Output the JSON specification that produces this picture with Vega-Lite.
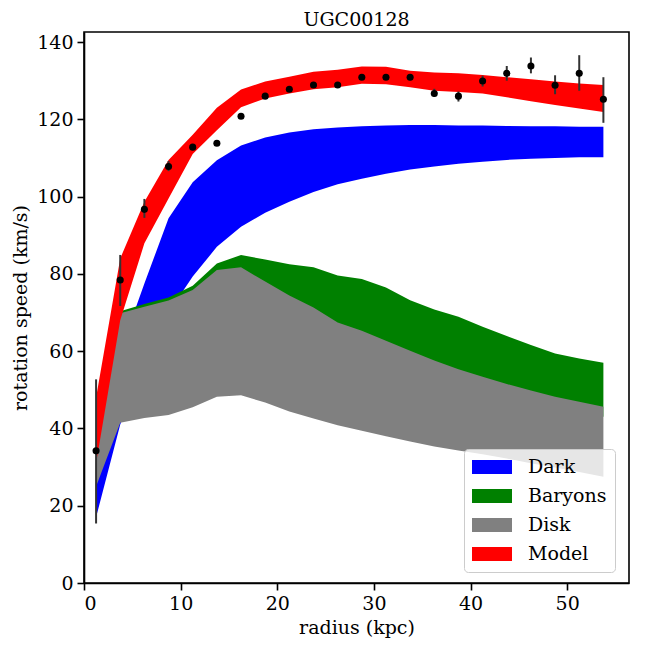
{
  "$schema": "https://vega.github.io/schema/vega-lite/v6.json",
  "width": 545,
  "height": 551,
  "autosize": "none",
  "padding": {"left": 84, "top": 32, "right": 19, "bottom": 65},
  "background": "white",
  "title": {
    "text": "UGC00128",
    "font": "DejaVu Serif",
    "fontSize": 19,
    "fontWeight": "normal",
    "color": "black",
    "anchor": "middle",
    "frame": "group",
    "offset": 2
  },
  "datasets": {
    "bands": [
      {"comp": "Dark", "r": 1.25, "lo": 17, "hi": 26},
      {"comp": "Dark", "r": 3.75, "lo": 41, "hi": 60},
      {"comp": "Dark", "r": 6.25, "lo": 56, "hi": 77.5},
      {"comp": "Dark", "r": 8.75, "lo": 70, "hi": 94.4},
      {"comp": "Dark", "r": 11.25, "lo": 79.3, "hi": 103.7},
      {"comp": "Dark", "r": 13.75, "lo": 87, "hi": 109.4},
      {"comp": "Dark", "r": 16.25, "lo": 92.2, "hi": 113.2},
      {"comp": "Dark", "r": 18.75, "lo": 95.8, "hi": 115.3},
      {"comp": "Dark", "r": 21.25, "lo": 98.7, "hi": 116.6},
      {"comp": "Dark", "r": 23.75, "lo": 101.2, "hi": 117.4},
      {"comp": "Dark", "r": 26.25, "lo": 103.2, "hi": 117.9},
      {"comp": "Dark", "r": 28.75, "lo": 104.6, "hi": 118.2},
      {"comp": "Dark", "r": 31.25, "lo": 105.9, "hi": 118.4},
      {"comp": "Dark", "r": 33.75, "lo": 107, "hi": 118.5},
      {"comp": "Dark", "r": 36.25, "lo": 107.8, "hi": 118.5},
      {"comp": "Dark", "r": 38.75, "lo": 108.5, "hi": 118.4},
      {"comp": "Dark", "r": 41.25, "lo": 109, "hi": 118.4},
      {"comp": "Dark", "r": 43.75, "lo": 109.5, "hi": 118.3},
      {"comp": "Dark", "r": 46.25, "lo": 109.8, "hi": 118.2},
      {"comp": "Dark", "r": 48.75, "lo": 110, "hi": 118.2},
      {"comp": "Dark", "r": 51.25, "lo": 110.2, "hi": 118.1},
      {"comp": "Dark", "r": 53.75, "lo": 110.2, "hi": 118.1},
      {"comp": "Baryons", "r": 1.25, "lo": 30, "hi": 36.5},
      {"comp": "Baryons", "r": 3.75, "lo": 45, "hi": 70.3},
      {"comp": "Baryons", "r": 6.25, "lo": 46, "hi": 72.2},
      {"comp": "Baryons", "r": 8.75, "lo": 47, "hi": 73.9},
      {"comp": "Baryons", "r": 11.25, "lo": 48.5, "hi": 76.9},
      {"comp": "Baryons", "r": 13.75, "lo": 51, "hi": 82.7},
      {"comp": "Baryons", "r": 16.25, "lo": 54.3, "hi": 84.9},
      {"comp": "Baryons", "r": 18.75, "lo": 55.8, "hi": 83.7},
      {"comp": "Baryons", "r": 21.25, "lo": 56.9, "hi": 82.5},
      {"comp": "Baryons", "r": 23.75, "lo": 57.6, "hi": 81.7},
      {"comp": "Baryons", "r": 26.25, "lo": 58.5, "hi": 79.6},
      {"comp": "Baryons", "r": 28.75, "lo": 58.3, "hi": 78.7},
      {"comp": "Baryons", "r": 31.25, "lo": 57.8, "hi": 76.5},
      {"comp": "Baryons", "r": 33.75, "lo": 56.5, "hi": 73.2},
      {"comp": "Baryons", "r": 36.25, "lo": 54.6, "hi": 70.8},
      {"comp": "Baryons", "r": 38.75, "lo": 52.7, "hi": 68.9},
      {"comp": "Baryons", "r": 41.25, "lo": 50.8, "hi": 66.3},
      {"comp": "Baryons", "r": 43.75, "lo": 49, "hi": 63.9},
      {"comp": "Baryons", "r": 46.25, "lo": 47.3, "hi": 61.6},
      {"comp": "Baryons", "r": 48.75, "lo": 45.7, "hi": 59.4},
      {"comp": "Baryons", "r": 51.25, "lo": 44.3, "hi": 58.1},
      {"comp": "Baryons", "r": 53.75, "lo": 43, "hi": 57},
      {"comp": "Disk", "r": 1.25, "lo": 25, "hi": 36},
      {"comp": "Disk", "r": 3.75, "lo": 41.5, "hi": 69.8},
      {"comp": "Disk", "r": 6.25, "lo": 42.7, "hi": 71.5},
      {"comp": "Disk", "r": 8.75, "lo": 43.5, "hi": 73.1},
      {"comp": "Disk", "r": 11.25, "lo": 45.5, "hi": 75.8},
      {"comp": "Disk", "r": 13.75, "lo": 48.2, "hi": 81},
      {"comp": "Disk", "r": 16.25, "lo": 48.6, "hi": 81.7},
      {"comp": "Disk", "r": 18.75, "lo": 46.7, "hi": 78},
      {"comp": "Disk", "r": 21.25, "lo": 44.4, "hi": 74.4},
      {"comp": "Disk", "r": 23.75, "lo": 42.6, "hi": 71.3},
      {"comp": "Disk", "r": 26.25, "lo": 40.8, "hi": 67.4},
      {"comp": "Disk", "r": 28.75, "lo": 39.4, "hi": 65.3},
      {"comp": "Disk", "r": 31.25, "lo": 38, "hi": 62.7},
      {"comp": "Disk", "r": 33.75, "lo": 36.6, "hi": 60.1},
      {"comp": "Disk", "r": 36.25, "lo": 35.3, "hi": 57.6},
      {"comp": "Disk", "r": 38.75, "lo": 34.3, "hi": 55.3},
      {"comp": "Disk", "r": 41.25, "lo": 33.3, "hi": 53.4},
      {"comp": "Disk", "r": 43.75, "lo": 32.2, "hi": 51.5},
      {"comp": "Disk", "r": 46.25, "lo": 31, "hi": 49.8},
      {"comp": "Disk", "r": 48.75, "lo": 29.9, "hi": 48.2},
      {"comp": "Disk", "r": 51.25, "lo": 28.7, "hi": 46.9},
      {"comp": "Disk", "r": 53.75, "lo": 27.5, "hi": 45.6},
      {"comp": "Model", "r": 1.25, "lo": 31, "hi": 48},
      {"comp": "Model", "r": 3.75, "lo": 68, "hi": 84},
      {"comp": "Model", "r": 6.25, "lo": 87.9, "hi": 98.7},
      {"comp": "Model", "r": 8.75, "lo": 99.5, "hi": 109.5},
      {"comp": "Model", "r": 11.25, "lo": 111, "hi": 116},
      {"comp": "Model", "r": 13.75, "lo": 117.2, "hi": 123},
      {"comp": "Model", "r": 16.25, "lo": 123.1, "hi": 127.7},
      {"comp": "Model", "r": 18.75, "lo": 125.4, "hi": 129.8},
      {"comp": "Model", "r": 21.25, "lo": 126.7, "hi": 131},
      {"comp": "Model", "r": 23.75, "lo": 127.8, "hi": 132.3},
      {"comp": "Model", "r": 26.25, "lo": 128.3, "hi": 132.8},
      {"comp": "Model", "r": 28.75, "lo": 129.2, "hi": 133.7},
      {"comp": "Model", "r": 31.25, "lo": 129.1, "hi": 133.6},
      {"comp": "Model", "r": 33.75, "lo": 128.3, "hi": 132.6},
      {"comp": "Model", "r": 36.25, "lo": 127.4, "hi": 132.1},
      {"comp": "Model", "r": 38.75, "lo": 127.1, "hi": 131.9},
      {"comp": "Model", "r": 41.25, "lo": 126.7, "hi": 131.5},
      {"comp": "Model", "r": 43.75, "lo": 125.7, "hi": 130.9},
      {"comp": "Model", "r": 46.25, "lo": 124.7, "hi": 130.4},
      {"comp": "Model", "r": 48.75, "lo": 123.7, "hi": 129.8},
      {"comp": "Model", "r": 51.25, "lo": 122.8, "hi": 129.3},
      {"comp": "Model", "r": 53.75, "lo": 121.9, "hi": 128.9}
    ],
    "obs": [
      {"r": 1.25, "v": 34.2, "elo": 15.4, "ehi": 52.7},
      {"r": 3.75, "v": 78.4, "elo": 71.7, "ehi": 84.9},
      {"r": 6.25, "v": 96.7, "elo": 94.5, "ehi": 99.4},
      {"r": 8.75, "v": 107.8, "elo": 106.6, "ehi": 109.2},
      {"r": 11.25, "v": 112.8, "elo": 112.2, "ehi": 113.4},
      {"r": 13.75, "v": 113.8, "elo": 113.2, "ehi": 114.4},
      {"r": 16.25, "v": 120.8, "elo": 120.2, "ehi": 121.4},
      {"r": 18.75, "v": 126, "elo": 125.4, "ehi": 126.6},
      {"r": 21.25, "v": 127.8, "elo": 127.2, "ehi": 128.4},
      {"r": 23.75, "v": 128.9, "elo": 128.3, "ehi": 129.5},
      {"r": 26.25, "v": 128.9, "elo": 128.3, "ehi": 129.5},
      {"r": 28.75, "v": 130.9, "elo": 130.3, "ehi": 131.5},
      {"r": 31.25, "v": 130.9, "elo": 130.2, "ehi": 131.6},
      {"r": 33.75, "v": 130.9, "elo": 130.1, "ehi": 131.7},
      {"r": 36.25, "v": 126.7, "elo": 125.8, "ehi": 127.9},
      {"r": 38.75, "v": 126, "elo": 124.6, "ehi": 127.2},
      {"r": 41.25, "v": 129.9, "elo": 128.5, "ehi": 131.3},
      {"r": 43.75, "v": 131.9, "elo": 130, "ehi": 133.8},
      {"r": 46.25, "v": 133.8, "elo": 131.9, "ehi": 136},
      {"r": 48.75, "v": 128.8, "elo": 126.5, "ehi": 131.4},
      {"r": 51.25, "v": 131.9, "elo": 127.4, "ehi": 136.6},
      {"r": 53.75, "v": 125.2, "elo": 119.1, "ehi": 130.9}
    ]
  },
  "encoding": {
    "x": {
      "field": "r",
      "type": "quantitative",
      "title": "radius (kpc)",
      "scale": {"domain": [0, 56.4], "nice": false, "zero": false},
      "axis": {"values": [0, 10, 20, 30, 40, 50]}
    }
  },
  "layer": [
    {
      "data": {"name": "bands"},
      "transform": [{"filter": "datum.comp === 'Dark'"}],
      "mark": {"type": "area", "opacity": 1, "interpolate": "linear"},
      "encoding": {
        "y": {
          "field": "lo",
          "type": "quantitative",
          "title": "rotation speed (km/s)",
          "scale": {"domain": [0, 142.6], "nice": false},
          "axis": {"values": [0, 20, 40, 60, 80, 100, 120, 140]}
        },
        "y2": {"field": "hi"},
        "color": {
          "field": "comp",
          "type": "nominal",
          "title": null,
          "scale": {
            "domain": ["Dark", "Baryons", "Disk", "Model"],
            "range": ["#0000ff", "#008000", "#808080", "#ff0000"]
          }
        }
      }
    },
    {
      "data": {"name": "bands"},
      "transform": [{"filter": "datum.comp === 'Baryons'"}],
      "mark": {"type": "area", "opacity": 1, "interpolate": "linear"},
      "encoding": {
        "y": {"field": "lo", "type": "quantitative", "title": "rotation speed (km/s)"},
        "y2": {"field": "hi"},
        "color": {"field": "comp", "type": "nominal", "title": null}
      }
    },
    {
      "data": {"name": "bands"},
      "transform": [{"filter": "datum.comp === 'Disk'"}],
      "mark": {"type": "area", "opacity": 1, "interpolate": "linear"},
      "encoding": {
        "y": {"field": "lo", "type": "quantitative", "title": "rotation speed (km/s)"},
        "y2": {"field": "hi"},
        "color": {"field": "comp", "type": "nominal", "title": null}
      }
    },
    {
      "data": {"name": "bands"},
      "transform": [{"filter": "datum.comp === 'Model'"}],
      "mark": {"type": "area", "opacity": 1, "interpolate": "linear"},
      "encoding": {
        "y": {"field": "lo", "type": "quantitative", "title": "rotation speed (km/s)"},
        "y2": {"field": "hi"},
        "color": {"field": "comp", "type": "nominal", "title": null}
      }
    },
    {
      "data": {"name": "obs"},
      "mark": {"type": "rule", "color": "#333333", "strokeWidth": 2},
      "encoding": {
        "y": {"field": "elo", "type": "quantitative", "title": "rotation speed (km/s)"},
        "y2": {"field": "ehi"}
      }
    },
    {
      "data": {"name": "obs"},
      "mark": {"type": "circle", "color": "black", "opacity": 1, "size": 50},
      "encoding": {
        "y": {"field": "v", "type": "quantitative", "title": "rotation speed (km/s)"}
      }
    }
  ],
  "config": {
    "view": {"stroke": "black", "strokeWidth": 1.6},
    "axis": {
      "grid": false,
      "labelFont": "DejaVu Serif",
      "labelFontSize": 19,
      "labelColor": "black",
      "titleFont": "DejaVu Serif",
      "titleFontSize": 19,
      "titleFontWeight": "normal",
      "titleColor": "black",
      "tickColor": "black",
      "tickSize": 7,
      "tickWidth": 1.6,
      "domainColor": "black",
      "domainWidth": 1.6
    },
    "axisX": {"labelPadding": 4, "titleY": 50, "titleBaseline": "alphabetic"},
    "axisY": {"labelPadding": 4, "titleX": -64, "titleBaseline": "middle"},
    "legend": {
      "orient": "none",
      "legendX": 380,
      "legendY": 417,
      "padding": 8,
      "fillColor": "rgba(255,255,255,0.8)",
      "strokeColor": "#cccccc",
      "cornerRadius": 4,
      "labelFont": "DejaVu Serif",
      "labelFontSize": 19,
      "labelColor": "black",
      "symbolType": "M-2,-0.7H2V0.7H-2Z",
      "symbolSize": 400,
      "symbolStrokeWidth": 0,
      "symbolOpacity": 1,
      "symbolOffset": 10,
      "labelOffset": 26,
      "rowPadding": 9
    }
  }
}
